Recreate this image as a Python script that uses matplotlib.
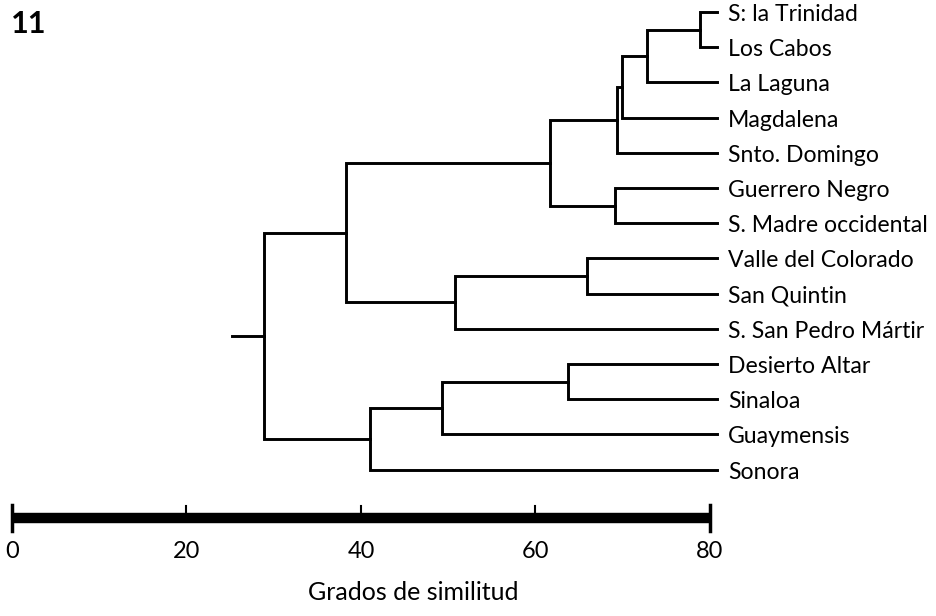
import matplotlib
matplotlib.use("Agg")
import matplotlib.pyplot as plt

plt.rcParams['font.family'] = ['Lato', 'DejaVu Sans']

### datos
leaves = ["S: la Trinidad", "Los Cabos", "La Laguna", "Magdalena", "Snto. Domingo",
          "Guerrero Negro", "S. Madre occidental", "Valle del Colorado", "San Quintin",
          "S. San Pedro Mártir", "Desierto Altar", "Sinaloa", "Guaymensis", "Sonora"]

# uniones: (hijo a, hijo b, grado de similitud); int = hoja, "n#" = union previa
merges = [
    (0, 1, 78.9),        # n0
    ("n0", 2, 72.8),     # n1
    ("n1", 3, 69.9),     # n2
    ("n2", 4, 69.3),     # n3
    (5, 6, 69.1),        # n4
    ("n3", "n4", 61.7),  # n5
    (7, 8, 65.9),        # n6
    ("n6", 9, 50.8),     # n7
    ("n5", "n7", 38.3),  # n8
    (10, 11, 63.7),      # n9
    ("n9", 12, 49.3),    # n10
    ("n10", 13, 41.0),   # n11
    ("n8", "n11", 28.9), # n12 (raiz)
]
root_start = 25.2
leaf_end = 80.8
scale_ticks = [0, 20, 40, 60, 80]
xlabel = "Grados de similitud"
panel = "11"

### figura
fig = plt.figure(figsize=(9.36, 6.16), dpi=100)
ax = fig.add_axes([0, 0, 1, 1])
px = 8.725   # pixeles por unidad de similitud
py = 35.2    # pixeles por hoja
ax.set_xlim(-12 / px, (936 - 12) / px)
ax.set_ylim((616 - 12) / py, -12 / py)
ax.axis("off")

lw = 2.1
nodes = {}

def pos(k):
    if isinstance(k, int):
        return leaf_end, k
    return nodes[k]

# hojas
for i, name in enumerate(leaves):
    ax.text(leaf_end + 1.3, i + 0.07, name, fontsize=16.6, va="center", ha="left")

for j, (a, b, s) in enumerate(merges):
    xa, ya = pos(a)
    xb, yb = pos(b)
    ax.plot([xa, s, s, xb], [ya, ya, yb, yb], color="black", lw=lw, solid_joinstyle="miter")
    nodes["n" + str(j)] = (s, (ya + yb) / 2)

rx, ry = nodes["n" + str(len(merges) - 1)]
ax.plot([root_start, rx], [ry, ry], color="black", lw=lw)

# barra de escala
bar_y = 14.375
ax.plot([scale_ticks[0], scale_ticks[-1]], [bar_y, bar_y], color="black", lw=7.5, solid_capstyle="butt")
for t in scale_ticks:
    if t in (scale_ticks[0], scale_ticks[-1]):
        ax.plot([t, t], [bar_y - 0.36, bar_y + 0.36], color="black", lw=2.5)
    else:
        ax.plot([t, t], [bar_y - 0.33, bar_y], color="black", lw=1.5)
    ax.text(t, 15.34, str(t), fontsize=17, ha="center", va="center")

ax.text(46, 16.5, xlabel, fontsize=18, ha="center", va="center")
ax.text(-0.1, 0.35, panel, fontsize=22, fontweight="bold", ha="left", va="center")

fig.savefig("out.png", dpi=100)
